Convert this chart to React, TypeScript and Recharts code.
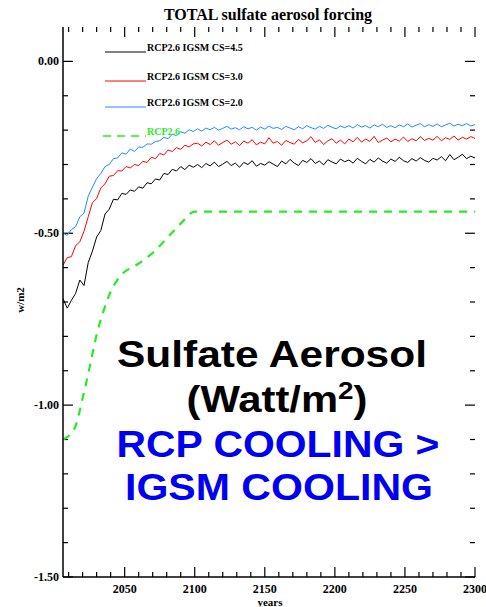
import { LineChart, Line, XAxis, YAxis, ReferenceLine } from "recharts"

// annual model output sampled every 3 years
const years = [
  2006, 2009, 2012, 2015, 2018, 2021, 2024, 2027, 2030, 2033, 2036, 2039, 2042, 2045, 2048, 2051, 2054, 2057, 2060, 2063,
  2066, 2069, 2072, 2075, 2078, 2081, 2084, 2087, 2090, 2093, 2096, 2099, 2102, 2105, 2108, 2111, 2114, 2117, 2120, 2123,
  2126, 2129, 2132, 2135, 2138, 2141, 2144, 2147, 2150, 2153, 2156, 2159, 2162, 2165, 2168, 2171, 2174, 2177, 2180, 2183,
  2186, 2189, 2192, 2195, 2198, 2201, 2204, 2207, 2210, 2213, 2216, 2219, 2222, 2225, 2228, 2231, 2234, 2237, 2240, 2243,
  2246, 2249, 2252, 2255, 2258, 2261, 2264, 2267, 2270, 2273, 2276, 2279, 2282, 2285, 2288, 2291, 2294, 2297, 2300,
]

const cs45 = [
  -0.69, -0.718, -0.695, -0.675, -0.636, -0.652, -0.585, -0.552, -0.511, -0.492, -0.444, -0.43, -0.401, -0.403, -0.384, -0.387,
  -0.374, -0.378, -0.365, -0.369, -0.353, -0.356, -0.342, -0.345, -0.326, -0.329, -0.314, -0.319, -0.306, -0.315, -0.302, -0.308,
  -0.3, -0.309, -0.297, -0.304, -0.293, -0.306, -0.299, -0.291, -0.303, -0.296,
  -0.308, -0.294, -0.3, -0.289, -0.305, -0.297, -0.302, -0.292, -0.299, -0.306,
  -0.29, -0.298, -0.285, -0.296, -0.303, -0.288, -0.294, -0.283, -0.297, -0.29,
  -0.301, -0.286, -0.293, -0.298, -0.284, -0.292, -0.287, -0.296, -0.282, -0.291,
  -0.298, -0.285, -0.293, -0.281, -0.29, -0.296, -0.284, -0.291, -0.279, -0.289,
  -0.294, -0.283, -0.29, -0.28, -0.288, -0.293, -0.282, -0.287, -0.277, -0.289,
  -0.271, -0.286, -0.279, -0.27, -0.283, -0.276, -0.281,
]

const cs30 = [
  -0.593, -0.571, -0.568, -0.536, -0.525, -0.494, -0.452, -0.411, -0.399, -0.368, -0.356, -0.334, -0.332, -0.318, -0.319, -0.306,
  -0.31, -0.3, -0.303, -0.291, -0.294, -0.279, -0.283, -0.268, -0.272, -0.258, -0.262, -0.251, -0.256, -0.244, -0.249, -0.24,
  -0.238, -0.246, -0.235, -0.242, -0.231, -0.244, -0.236, -0.229, -0.241, -0.234,
  -0.245, -0.232, -0.238, -0.228, -0.243, -0.235, -0.24, -0.222, -0.238, -0.233,
  -0.244, -0.23, -0.236, -0.241, -0.227, -0.237, -0.231, -0.219, -0.236, -0.228,
  -0.242, -0.231, -0.225, -0.238, -0.229, -0.24, -0.226, -0.234, -0.221, -0.235,
  -0.226, -0.233, -0.218, -0.236, -0.229, -0.223, -0.234, -0.226, -0.232, -0.22,
  -0.233, -0.225, -0.231, -0.219, -0.23, -0.224, -0.229, -0.218, -0.231, -0.222,
  -0.227, -0.217, -0.229, -0.221, -0.226, -0.219, -0.224,
]

const cs20 = [
  -0.5, -0.506, -0.489, -0.481, -0.452, -0.441, -0.392, -0.366, -0.341, -0.326, -0.306, -0.3, -0.283, -0.281, -0.266, -0.27,
  -0.255, -0.262, -0.249, -0.25, -0.24, -0.241, -0.233, -0.231, -0.221, -0.225, -0.212, -0.216, -0.205, -0.209, -0.199, -0.204,
  -0.196, -0.203, -0.194, -0.199, -0.192, -0.2, -0.195, -0.189, -0.197, -0.193,
  -0.199, -0.19, -0.196, -0.192, -0.2, -0.191, -0.197, -0.188, -0.195, -0.192,
  -0.198, -0.189, -0.194, -0.199, -0.19, -0.196, -0.187, -0.193, -0.197, -0.189,
  -0.195, -0.186, -0.192, -0.196, -0.188, -0.193, -0.187, -0.194, -0.184, -0.191,
  -0.187, -0.194, -0.185, -0.19, -0.183, -0.192, -0.187, -0.193, -0.185, -0.19,
  -0.182, -0.191, -0.186, -0.181, -0.19, -0.184, -0.189, -0.182, -0.19, -0.185,
  -0.18, -0.188, -0.183, -0.187, -0.181, -0.188, -0.184,
]

// RCP2.6 scenario
const rcpYears = [2006, 2010, 2015, 2020, 2025, 2030, 2035, 2040, 2045, 2050, 2055, 2060, 2070, 2080, 2090, 2100, 2150, 2200, 2250, 2300]
const rcp26 = [-1.1, -1.09, -1.06, -0.98, -0.89, -0.795, -0.725, -0.67, -0.635, -0.612, -0.6, -0.588, -0.557, -0.515, -0.472, -0.437, -0.437, -0.437, -0.437, -0.437]

const X_MIN = 2006
const X_MAX = 2300
const Y_MIN = -1.5
const Y_MAX = 0.1

const xMajor = [2050, 2100, 2150, 2200, 2250, 2300]
const xTicks = [2010, 2020, 2030, 2040, 2050, 2060, 2070, 2080, 2090, 2100, 2110, 2120, 2130, 2140, 2150, 2160, 2170, 2180, 2190, 2200, 2210, 2220, 2230, 2240, 2250, 2260, 2270, 2280, 2290, 2300]
const yMajor = [0, -0.5, -1, -1.5]
const yTicks = [0, -0.1, -0.2, -0.3, -0.4, -0.5, -0.6, -0.7, -0.8, -0.9, -1, -1.1, -1.2, -1.3, -1.4, -1.5]

const series = [
  { key: "cs45", label: "RCP2.6 IGSM CS=4.5", color: "#000000" },
  { key: "cs30", label: "RCP2.6 IGSM CS=3.0", color: "#ff0000" },
  { key: "cs20", label: "RCP2.6 IGSM CS=2.0", color: "#1e8cff" },
]
const GREEN = "#22ee22"

const data = years.map((year, i) => ({ year, cs45: cs45[i], cs30: cs30[i], cs20: cs20[i] }))
const rcpData = rcpYears.map((year, i) => ({ year, rcp26: rcp26[i] }))

const serif = "'Liberation Serif', 'Times New Roman', serif"
const sans = "'Liberation Sans', Arial, sans-serif"

const isMajor = (list: number[], v: number) => list.some((m) => Math.abs(m - v) < 1e-6)

// inward tick lengths in data units (plot is 412 x 550 px)
const xLen = (major: boolean) => ((major ? 10 : 5) * (X_MAX - X_MIN)) / 412
const yLen = (major: boolean) => ((major ? 10 : 5) * (Y_MAX - Y_MIN)) / 550

const bottomLabel = (props: any) => {
  const { x, y, payload } = props
  if (!isMajor(xMajor, payload.value)) return <g />
  return (
    <text x={x} y={y + 16} textAnchor="middle" fontFamily={serif} fontWeight="bold" fontSize={12} fill="#000">
      {payload.value}
    </text>
  )
}

const leftLabel = (props: any) => {
  const { x, y, payload } = props
  if (!isMajor(yMajor, payload.value)) return <g />
  return (
    <text x={x - 4} y={y + 4} textAnchor="end" fontFamily={serif} fontWeight="bold" fontSize={12} fill="#000">
      {payload.value.toFixed(2)}
    </text>
  )
}

const tickStroke = { stroke: "#000", strokeWidth: 1.2, ifOverflow: "visible" as const }

export default function App() {
  return (
    <div style={{ position: "absolute", left: 0, top: 0, width: 486, height: 607, background: "#fff" }}>
      <LineChart width={486} height={607} data={data} margin={{ top: 27, right: 11, bottom: 0, left: 0 }}>
        <XAxis
          dataKey="year"
          type="number"
          domain={[X_MIN, X_MAX]}
          ticks={xTicks}
          interval={0}
          allowDataOverflow
          height={30}
          tickSize={0}
          tickMargin={0}
          tickLine={false}
          axisLine={{ stroke: "#000", strokeWidth: 1.5 }}
          tick={bottomLabel}
        />
        <XAxis
          xAxisId="top"
          orientation="top"
          type="number"
          domain={[X_MIN, X_MAX]}
          allowDataOverflow
          height={0}
          tick={false}
          tickLine={false}
          axisLine={{ stroke: "#000", strokeWidth: 1.5 }}
        />
        <YAxis
          type="number"
          domain={[Y_MIN, Y_MAX]}
          ticks={yTicks}
          interval={0}
          allowDataOverflow
          width={63}
          tickSize={0}
          tickMargin={0}
          tickLine={false}
          axisLine={{ stroke: "#000", strokeWidth: 1.5 }}
          tick={leftLabel}
        />
        <YAxis
          yAxisId="right"
          orientation="right"
          type="number"
          domain={[Y_MIN, Y_MAX]}
          allowDataOverflow
          width={0}
          tick={false}
          tickLine={false}
          axisLine={{ stroke: "#000", strokeWidth: 1.5 }}
        />

        {/* tick marks on all four sides, pointing into the plot */}
        {xTicks.map((t) => (
          <ReferenceLine key={`xb-${t}`} segment={[{ x: t, y: Y_MIN }, { x: t, y: Y_MIN + yLen(isMajor(xMajor, t)) }]} {...tickStroke} />
        ))}
        {xTicks.map((t) => (
          <ReferenceLine key={`xt-${t}`} segment={[{ x: t, y: Y_MAX }, { x: t, y: Y_MAX - yLen(isMajor(xMajor, t)) }]} {...tickStroke} />
        ))}
        {yTicks.map((t) => (
          <ReferenceLine key={`yl-${t}`} segment={[{ x: X_MIN, y: t }, { x: X_MIN + xLen(isMajor(yMajor, t)), y: t }]} {...tickStroke} />
        ))}
        {yTicks.map((t) => (
          <ReferenceLine key={`yr-${t}`} segment={[{ x: X_MAX, y: t }, { x: X_MAX - xLen(isMajor(yMajor, t)), y: t }]} {...tickStroke} />
        ))}

        <Line
          data={rcpData}
          dataKey="rcp26"
          type="monotone"
          stroke={GREEN}
          strokeWidth={2.2}
          strokeDasharray="8 7"
          dot={false}
          isAnimationActive={false}
        />
        {series.map((s) => (
          <Line key={s.key} dataKey={s.key} type="linear" stroke={s.color} strokeWidth={1} dot={false} isAnimationActive={false} />
        ))}
      </LineChart>

      <svg width={486} height={607} style={{ position: "absolute", left: 0, top: 0, pointerEvents: "none" }}>
        <text x={268} y={20} textAnchor="middle" fontFamily={serif} fontWeight="bold" fontSize={16} fill="#000">
          TOTAL sulfate aerosol forcing
        </text>
        <text x={270} y={606} textAnchor="middle" fontFamily={serif} fontWeight="bold" fontSize={11} fill="#000">
          years
        </text>
        <text
          x={24}
          y={300}
          textAnchor="middle"
          transform="rotate(-90 24 300)"
          fontFamily={serif}
          fontWeight="bold"
          fontSize={11}
          fill="#000"
        >
          w/m2
        </text>

        {series.map((s, i) => {
          const ly = [52, 81, 107][i]
          return (
            <g key={s.key}>
              <line x1={105} x2={146} y1={ly} y2={ly} stroke={s.color} strokeWidth={1} />
              <text x={147} y={ly - 1} fontFamily={serif} fontWeight="bold" fontSize={10} fill="#000">
                {s.label}
              </text>
            </g>
          )
        })}
        <line x1={103} x2={146} y1={136} y2={136} stroke={GREEN} strokeWidth={1.5} strokeDasharray="8 6" />
        <text x={147} y={135} fontFamily={serif} fontWeight="bold" fontSize={10} fill={GREEN}>
          RCP2.6
        </text>

        <text x={272} y={367} textAnchor="middle" fontFamily={sans} fontWeight="bold" fontSize={36} fill="#000" textLength={310} lengthAdjust="spacingAndGlyphs">
          Sulfate Aerosol
        </text>
        <text x={277} y={412} textAnchor="middle" fontFamily={sans} fontWeight="bold" fontSize={36} fill="#000" textLength={181} lengthAdjust="spacingAndGlyphs">
          (Watt/m<tspan fontSize={24} dy={-13}>2</tspan>
          <tspan dy={13}>)</tspan>
        </text>
        <text x={278} y={457} textAnchor="middle" fontFamily={sans} fontWeight="bold" fontSize={36} fill="#0000f0" textLength={323} lengthAdjust="spacingAndGlyphs">
          RCP COOLING &gt;
        </text>
        <text x={279} y={500} textAnchor="middle" fontFamily={sans} fontWeight="bold" fontSize={36} fill="#0000f0" textLength={308} lengthAdjust="spacingAndGlyphs">
          IGSM COOLING
        </text>
      </svg>
    </div>
  )
}
